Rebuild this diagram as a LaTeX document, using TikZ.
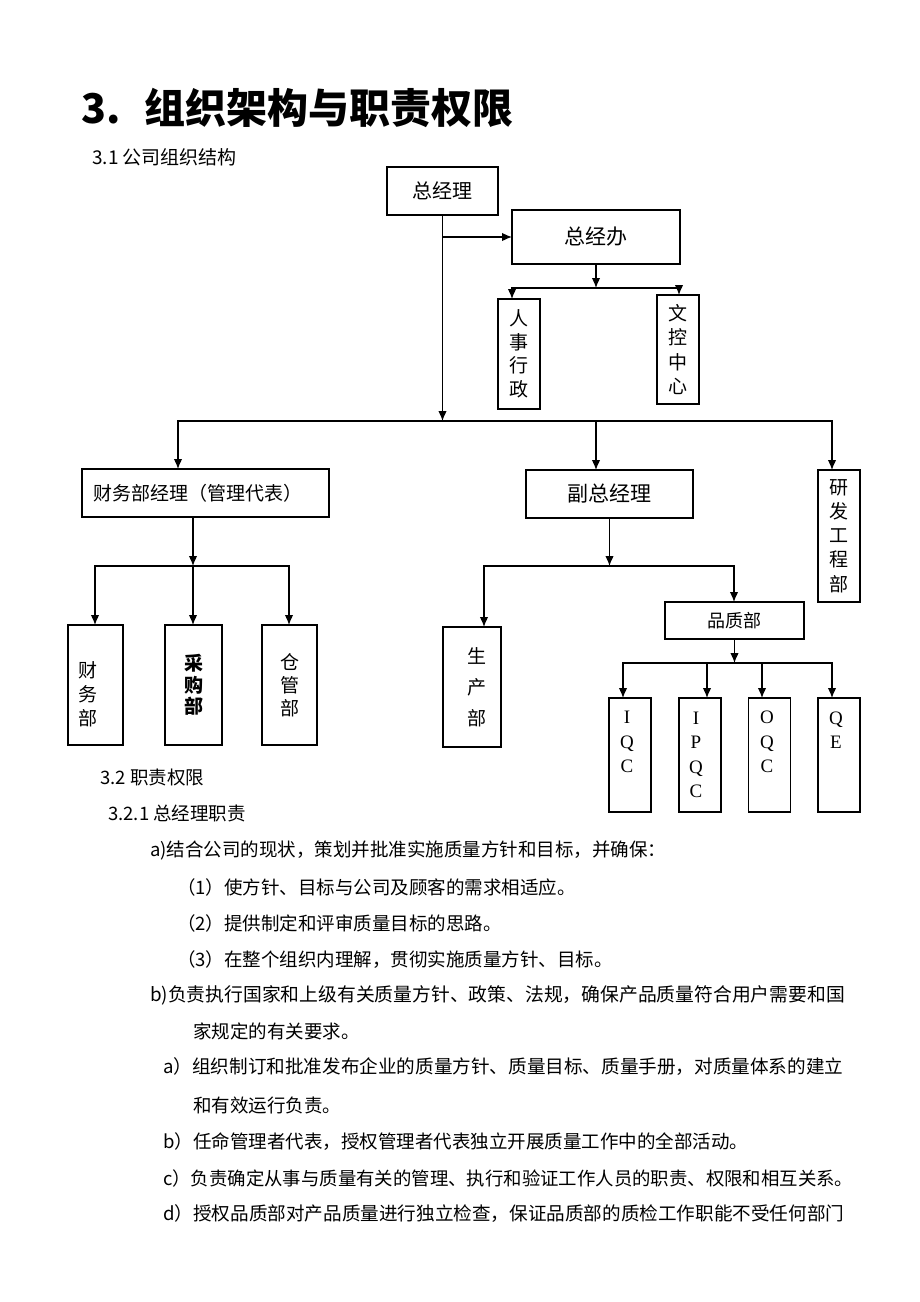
\documentclass[tikz,border=0pt]{standalone}
\usepackage{fontspec}
\setmainfont{Noto Sans CJK SC}
\newfontfamily\qcfont{Liberation Serif}
\usetikzlibrary{arrows.meta,positioning}
\tikzset{%
  >={Latex[length=10pt,width=8.5pt]}, % filled tips
  link/.style={line width=1.2pt, line cap=rect},%
  box/.style={draw, line width=1.2pt, inner sep=0pt, outer sep=0pt, align=center},%
  vbox/.style={box, minimum width=42pt, font=\fontsize{19}{23.5}\selectfont},%
  qcbox/.style={box, minimum width=42pt, minimum height=114pt},%
  vtext/.style={align=center, inner sep=0pt, font=\fontsize{19}{24}\selectfont},%
  qctext/.style={align=center, inner sep=0pt, font=\qcfont\fontsize{19}{24.5}\selectfont},%
  body/.style={anchor=west, inner sep=0pt, font=\fontsize{18.5}{22}\selectfont}%
}

\begin{document}
\begin{tikzpicture}[x=1pt,y=-1pt] % ORGANISATION

\path[use as bounding box, fill=white] (0,0) rectangle (920,1302);

% headings
\node[anchor=west, inner sep=0pt, font=\bfseries\fontsize{41}{46}\selectfont] (title)
  at (81,108) {3.\hspace{24pt}组织架构与职责权限};
\node[body, font=\fontsize{19}{22}\selectfont] (sub) at (92,157) {3.1 公司组织结构};

% top of the chart
\node[box, minimum width=111pt, minimum height=48pt, font=\fontsize{20}{24}\selectfont]
  (gm) at (442.5,191) {总经理};
\node[box, minimum width=168pt, minimum height=54pt, font=\fontsize{21}{24}\selectfont]
  (office) at (596,237) {总经办};
\node[vbox, minimum height=110pt] (hr) at (519,354) {人\\事\\行\\政};
\node[vbox, minimum height=109pt, font=\fontsize{19}{24.5}\selectfont]
  (doc) at (678,349.5) {文\\控\\中\\心};

% second level
\node[box, minimum width=247pt, minimum height=48pt, text width=225pt, align=left,
  font=\fontsize{19}{24}\selectfont] (fin) at (205.5,493) {财务部经理（管理代表）};
\node[box, minimum width=167pt, minimum height=48pt, font=\fontsize{21}{24}\selectfont]
  (vgm) at (609.5,494) {副总经理};
\node[vbox, minimum height=132pt, font=\fontsize{19}{24.2}\selectfont]
  (rd) at (839,536) {研\\发\\工\\程\\部};

% departments
\node[box, minimum width=55pt, minimum height=120pt] (acc) at (95.5,685) {};
\node[vtext] (accT) at ([xshift=-7.5pt,yshift=-9pt]acc.center) {财\\务\\部};
\node[vbox, minimum width=57pt, minimum height=120pt, font=\bfseries\fontsize{19}{21.5}\selectfont]
  (pur) at (193.5,685) {采\\购\\部};
\node[vbox, minimum width=55pt, minimum height=120pt, font=\fontsize{19}{23}\selectfont]
  (wh) at (289.5,685) {仓\\管\\部};
\node[box, minimum width=58pt, minimum height=120pt] (prod) at (472,687) {};
\node[vtext, font=\fontsize{19}{31}\selectfont] (prodT) at ([xshift=5pt]prod.center) {生\\产\\部};
\node[box, minimum width=139pt, minimum height=37pt, font=\fontsize{18}{22}\selectfont]
  (qa) at (734.5,620.5) {品质部};

% quality groups
\node[qcbox] (iqc) at (630,755) {};
\node[qcbox] (ipqc) at (700,755) {};
\node[qcbox] (oqc) at (769.5,755) {};
\node[qcbox] (qe) at (839,755) {};
\node[qctext] (iqcT) at ([xshift=-3pt,yshift=13pt]iqc.center) {I\\Q\\C};
\node[qctext] (ipqcT) at ([xshift=-4pt]ipqc.center) {I\\P\\Q\\C};
\node[qctext] (oqcT) at ([xshift=-2.5pt,yshift=13pt]oqc.center) {O\\Q\\C};
\node[qctext] (qeT) at ([xshift=-3pt,yshift=25pt]qe.center) {Q\\E};

% connectors from the top
\coordinate (o1) at (512,288);
\coordinate (o2) at (679,288);
\draw[link,->] (gm.south |- office.west) -- (office.west);
\draw[link,->] (office.south) -- (office.south |- o1);
\draw[link] (o1) -- (o2);
\draw[link,->] (o1) -- (o1 |- hr.north);
\draw[link,->] (o2) -- (o2 |- doc.north);

\coordinate (b1) at (178,421);
\coordinate (b2) at (596,421);
\coordinate (b3) at (832,421);
\draw[link,->] (gm.south) -- (gm.south |- b1);
\draw[link] (b1) -- (b3);
\draw[link,->] (b1) -- (b1 |- fin.north);
\draw[link,->] (b2) -- (b2 |- vgm.north);
\draw[link,->] (b3) -- (b3 |- rd.north);

% finance branch
\coordinate (f1) at (95,566);
\coordinate (f2) at (193,566);
\coordinate (f3) at (289,566);
\draw[link,->] (f2 |- fin.south) -- (f2);
\draw[link] (f1) -- (f3);
\draw[link,->] (f1) -- (f1 |- acc.north);
\draw[link,->] (f2) -- (f2 |- pur.north);
\draw[link,->] (f3) -- (f3 |- wh.north);

% deputy branch
\coordinate (v1) at (484,566);
\coordinate (v2) at (734,566);
\draw[link,->] (vgm.south) -- (vgm.south |- v1);
\draw[link] (v1) -- (v2);
\draw[link,->] (v1) -- (v1 |- prod.north);
\draw[link,->] (v2) -- (v2 |- qa.north);

% quality branch
\coordinate (q1) at (623,663);
\coordinate (q2) at (707,663);
\coordinate (q3) at (762,663);
\coordinate (q4) at (832,663);
\draw[link,->] (qa.south) -- (qa.south |- q1);
\draw[link] (q1) -- (q4);
\foreach \c/\n in {q1/iqc,q2/ipqc,q3/oqc,q4/qe}
  \draw[link,->] (\c) -- (\c |- \n.north);

% text below the chart
\node[body] (s32) at (100,778) {3.2 职责权限};
\node[body] (s321) at (108,813) {3.2.1 总经理职责};
\node[body] (la) at (150,850) {a)结合公司的现状，策划并批准实施质量方针和目标，并确保：};
\node[body] (l1) at (177,887) {（1）使方针、目标与公司及顾客的需求相适应。};
\node[body] (l2) at (177,923) {（2）提供制定和评审质量目标的思路。};
\node[body] (l3) at (177,960) {（3）在整个组织内理解，贯彻实施质量方针、目标。};
\node[body, font=\fontsize{18.8}{22}\selectfont] (lb) at (150,995) {b)负责执行国家和上级有关质量方针、政策、法规，确保产品质量符合用户需要和国};
\node[body] (lb2) at (193,1031) {家规定的有关要求。};
\node[body, font=\fontsize{18.6}{22}\selectfont] (ma) at (163,1067) {a）组织制订和批准发布企业的质量方针、质量目标、质量手册，对质量体系的建立};
\node[body] (ma2) at (193,1105) {和有效运行负责。};
\node[body] (mb) at (163,1142) {b）任命管理者代表，授权管理者代表独立开展质量工作中的全部活动。};
\node[body, font=\fontsize{18.4}{22}\selectfont] (mc) at (163,1178) {c）负责确定从事与质量有关的管理、执行和验证工作人员的职责、权限和相互关系。};
\node[body, font=\fontsize{18.6}{22}\selectfont] (md) at (163,1214) {d）授权品质部对产品质量进行独立检查，保证品质部的质检工作职能不受任何部门};

\end{tikzpicture}
\end{document}
